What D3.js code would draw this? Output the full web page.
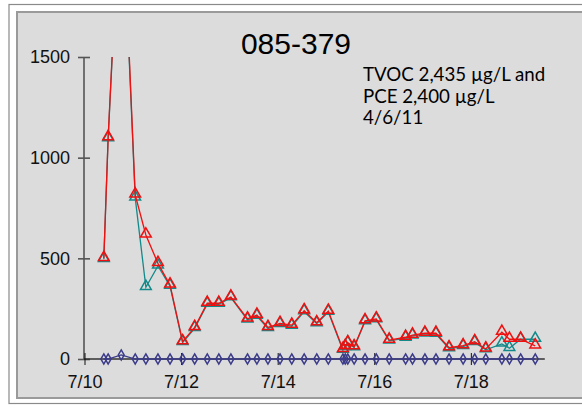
<!DOCTYPE html>
<html><head><meta charset="utf-8">
<script src="https://cdn.jsdelivr.net/npm/d3@7/dist/d3.min.js"></script>
<style>html,body{margin:0;padding:0;background:#fff;}svg{display:block;}</style>
</head><body><svg id="c" width="582" height="409"></svg>
<script>
const title = "085-379";
const noteLines = ["TVOC 2,435 \u00b5g/L and", "PCE 2,400 \u00b5g/L", "4/6/11"];
const sampleTimes = ["2011-07-10T09:36","2011-07-10T11:45","2011-07-10T18:15","2011-07-11T01:12","2011-07-11T06:30","2011-07-11T12:30","2011-07-11T18:30","2011-07-12T00:45","2011-07-12T06:45","2011-07-12T13:00","2011-07-12T18:45","2011-07-13T00:45","2011-07-13T09:00","2011-07-13T13:40","2011-07-13T19:10","2011-07-14T01:10","2011-07-14T07:00","2011-07-14T13:10","2011-07-14T19:25","2011-07-15T01:10","2011-07-15T08:25","2011-07-15T09:35","2011-07-15T10:50","2011-07-15T14:00","2011-07-15T19:25","2011-07-16T01:00","2011-07-16T07:25","2011-07-16T15:35","2011-07-16T19:00","2011-07-17T01:10","2011-07-17T06:40","2011-07-17T13:10","2011-07-17T20:10","2011-07-18T01:55","2011-07-18T07:25","2011-07-18T15:25","2011-07-18T19:10","2011-07-19T00:45","2011-07-19T08:00"];
const tvoc = [500,1100,2435,815,616,475,368,86,157,277,277,308,199,218,157,177,168,240,180,238,48,62,81,61,190,199,94,108,119,128,128,56,66,86,50,133,98,98,65];
const pce  = [495,1095,2400,800,356,462,362,82,152,272,272,305,194,213,152,172,163,235,176,233,44,58,78,57,186,195,90,104,115,125,124,52,62,82,46,75,53,98,98];
const other = [0,0,20,0,0,0,0,0,0,0,0,0,0,0,0,0,0,0,0,0,0,0,0,0,0,0,0,0,0,0,0,0,0,0,0,0,0,0,0];
const yTicks = [0,500,1000,1500];
const xTickDates = ["2011-07-10","2011-07-12","2011-07-14","2011-07-16","2011-07-18"];
const xDomain = ["2011-07-10T00:00","2011-07-19T12:45"];

const parse = d3.timeParse("%Y-%m-%dT%H:%M");
const parseDay = d3.timeParse("%Y-%m-%d");
const times = sampleTimes.map(parse);

const svg = d3.select("#c");
// frames
svg.append("rect").attr("x",9).attr("y",4.5).attr("width",600).attr("height",399)
  .attr("fill","#fff").attr("stroke","#8a8a8a").attr("stroke-width",1.2);
svg.append("rect").attr("x",17).attr("y",12).attr("width",600).attr("height",386)
  .attr("fill","#dcdcdc").attr("stroke","#9a9a9a").attr("stroke-width",2);

const x = d3.scaleTime().domain(xDomain.map(parse)).range([84.5, 544.8]);
const y = d3.scaleLinear().domain([0,1500]).range([359,57]);

svg.append("defs").append("clipPath").attr("id","clip")
  .append("rect").attr("x",0).attr("y",y(1500)).attr("width",582).attr("height",409-y(1500));

// y axis
const yAxis = svg.append("g").attr("transform","translate(84,0)")
  .call(d3.axisLeft(y).tickValues(yTicks).tickSize(5).tickPadding(9).tickFormat(d3.format("d")));
yAxis.select(".domain").attr("stroke","#555").attr("stroke-width",1.6).attr("d","M0,"+y(1500)+"V"+y(0));
yAxis.selectAll(".tick line").attr("stroke","#555").attr("stroke-width",1.6).attr("x1",6).attr("x2",-6);
yAxis.selectAll("text").attr("font-family","Liberation Sans, Arial, sans-serif").attr("font-size",18).attr("fill","#111");

// x axis
const xAxis = svg.append("g").attr("transform","translate(0,"+y(0)+")")
  .call(d3.axisBottom(x).tickValues(xTickDates.map(parseDay)).tickSize(6).tickPadding(10).tickFormat(d3.timeFormat("%-m/%-d")));
xAxis.select(".domain").attr("stroke","#333").attr("stroke-width",1.4).attr("d","M84,0H"+x(parse(xDomain[1])));
xAxis.selectAll(".tick line").attr("stroke","#111").attr("stroke-width",1).attr("y1",-6).attr("y2",6);
xAxis.selectAll("text").attr("font-family","Liberation Sans, Arial, sans-serif").attr("font-size",18).attr("fill","#111");

const plot = svg.append("g").attr("clip-path","url(#clip)");
const lineGen = vals => d3.line().x((d,i)=>x(times[i])).y(d=>y(d))(vals);
const tri = d3.symbol().type(d3.symbolTriangle).size(50);
const dia = d3.symbol().type(d3.symbolDiamond).size(30);

function series(vals, color, sym, sw) {
  plot.append("path").attr("d", lineGen(vals)).attr("fill","none").attr("stroke",color).attr("stroke-width",sw);
  plot.selectAll(null).data(vals).enter().append("path")
    .attr("d", sym)
    .attr("transform",(d,i)=>"translate("+x(times[i])+","+(y(d)+(sym===tri?-1:0))+")")
    .attr("fill","none").attr("stroke",color).attr("stroke-width",1.5);
}
series(pce, "#13898a", tri, 1.3);
series(tvoc, "#f01010", tri, 1.3);
series(other, "#3b3b8a", dia, 1.3);

// title and note
svg.append("text").attr("x",296).attr("y",54).attr("text-anchor","middle")
  .attr("font-family","Liberation Sans, Arial, sans-serif").attr("font-size",30).attr("fill","#000").text(title);
const note = svg.append("text").attr("font-family","Lato, Open Sans, sans-serif").attr("font-size",18.7).attr("fill","#000");
noteLines.forEach((t,i)=>note.append("tspan").attr("x",363).attr("y",81+i*21.5).text(t));
</script></body></html>
